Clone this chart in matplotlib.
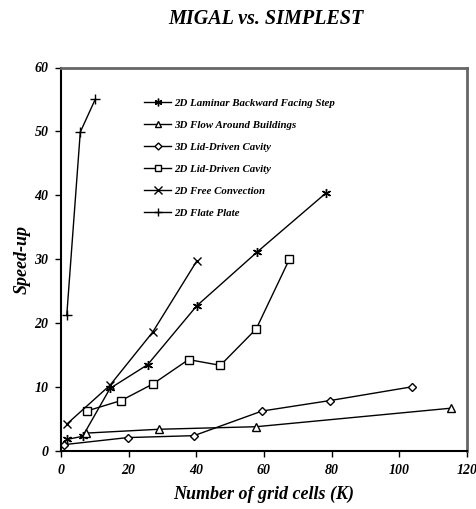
import matplotlib
matplotlib.use("Agg")
import matplotlib.pyplot as plt

# Speed-up of MIGAL over SIMPLEST vs. grid size (thousands of cells)
bfs_x = [1.7, 6.4, 14.5, 25.6, 40.1, 57.9, 78.4]
bfs_y = [1.8, 2.3, 9.8, 13.5, 22.7, 31.1, 40.4]

bld_x = [7.4, 28.9, 57.7, 115.3]
bld_y = [2.8, 3.4, 3.8, 6.7]

ldc3_x = [1.0, 19.7, 39.3, 59.4, 79.6, 103.8]
ldc3_y = [1.0, 2.1, 2.4, 6.25, 7.9, 10.05]

ldc2_x = [7.6, 17.8, 27.2, 37.7, 47.1, 57.7, 67.5]
ldc2_y = [6.25, 7.9, 10.5, 14.3, 13.4, 19.1, 30.0]

conv_x = [1.7, 14.5, 27.1, 40.1]
conv_y = [4.2, 10.3, 18.6, 29.7]

plate_x = [1.7, 5.7, 10.1]
plate_y = [21.2, 49.9, 55.0]

labels = ["2D Laminar Backward Facing Step", "3D Flow Around Buildings",
          "3D Lid-Driven Cavity", "2D Lid-Driven Cavity",
          "2D Free Convection", "2D Flate Plate"]

FONT = "Liberation Serif"
plt.rcParams["font.family"] = [FONT, "DejaVu Serif"]

fig = plt.figure(figsize=(4.76, 5.09), dpi=100)
ax = fig.add_axes([61 / 476, 1 - 451 / 509, 406 / 476, (451 - 67.5) / 509])

common = dict(color="black", lw=1.0, mfc="white", mec="black", mew=1.0)
ax.plot(bfs_x, bfs_y, marker=(6, 2, 0), ms=6.5, label=labels[0], **common)
ax.plot(bld_x, bld_y, marker="^", ms=5.5, label=labels[1], **common)
ax.plot(ldc3_x, ldc3_y, marker="D", ms=4.2, label=labels[2], **common)
ax.plot(ldc2_x, ldc2_y, marker="s", ms=5.5, label=labels[3], **common)
ax.plot(conv_x, conv_y, marker="x", ms=6, label=labels[4], **common)
ax.plot(plate_x, plate_y, marker="+", ms=7, label=labels[5], **common)

ax.set_xlim(0, 120)
ax.set_ylim(0, 60)
ax.set_xticks(range(0, 121, 20))
ax.set_yticks(range(0, 61, 10))

tick_font = dict(family=FONT, weight="bold", style="italic", size=10)
ax.set_xticklabels([str(v) for v in range(0, 121, 20)], **tick_font)
ax.set_yticklabels([str(v) for v in range(0, 61, 10)], **tick_font)
ax.tick_params(direction="out", length=4, width=1.0, color="black", pad=5)

for s in ("left", "bottom"):
    ax.spines[s].set_color("black")
    ax.spines[s].set_linewidth(1.5)
for s in ("top", "right"):
    ax.spines[s].set_color("#666666")
    ax.spines[s].set_linewidth(2.0)

label_font = dict(family=FONT, weight="bold", style="italic", size=13)
ax.set_xlabel("Number of grid cells (K)", **label_font)
ax.set_ylabel("Speed-up", **label_font)
ax.xaxis.set_label_coords(0.5, (451 - 494) / 383.5)
ax.yaxis.set_label_coords((22 - 61) / 406, 0.5)
ax.xaxis.label.set_va("center")
ax.yaxis.label.set_va("center")

fig.text((61 + 467) / 2 / 476 + 0.005, 1 - 19 / 509, "MIGAL vs. SIMPLEST",
         ha="center", va="center", family=FONT, weight="bold",
         style="italic", size=14.5)

leg = ax.legend(loc="upper left", bbox_to_anchor=(144 / 476, 1 - 98 / 509),
                bbox_transform=fig.transFigure, frameon=False,
                prop=dict(family=FONT, weight="bold", style="italic", size=7.8),
                handlelength=2.5, handletextpad=0.3, labelspacing=1.15,
                borderpad=0, borderaxespad=0, markerscale=0.85)

fig.savefig("out.png", dpi=100)
